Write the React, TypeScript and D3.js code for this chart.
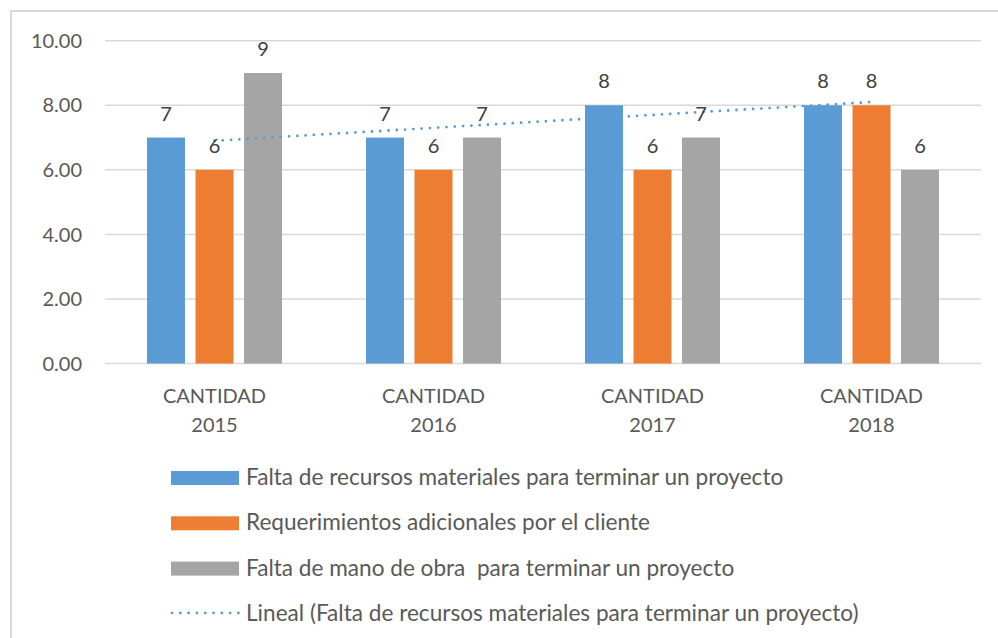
import React from "react";
import * as d3 from "d3";

const categories = ["CANTIDAD 2015", "CANTIDAD 2016", "CANTIDAD 2017", "CANTIDAD 2018"];
const seriesNames = [
  "Falta de recursos materiales para terminar un proyecto",
  "Requerimientos adicionales por el cliente",
  "Falta de mano de obra  para terminar un proyecto",
];
const faltaRecursos = [7, 7, 8, 8];
const requerimientos = [6, 6, 6, 8];
const faltaManoObra = [9, 7, 7, 6];
const trendName = "Lineal (Falta de recursos materiales para terminar un proyecto)";
const yTicks = [0, 2, 4, 6, 8, 10];

const colors = ["#5B9BD5", "#ED7D31", "#A5A5A5"];
const FONT = "Lato, 'Open Sans', sans-serif";

const W = 998;
const H = 638;

export default function App() {
  const series = [faltaRecursos, requerimientos, faltaManoObra];

  const y = d3.scaleLinear().domain([0, 10]).range([363.5, 40.7]);
  const x = d3.scaleBand<string>().domain(categories).range([105, 981]).padding(0);
  const groupW = 135;
  const inner = d3
    .scaleBand<number>()
    .domain([0, 1, 2])
    .range([0, groupW])
    .paddingInner(0.217)
    .paddingOuter(0);

  const center = (c: string) => (x(c) ?? 0) + x.bandwidth() / 2;

  // least-squares linear trend of the first series across category index 1..n
  const n = faltaRecursos.length;
  const xs = d3.range(1, n + 1);
  const mx = d3.mean(xs)!;
  const my = d3.mean(faltaRecursos)!;
  const slope =
    d3.sum(xs, (xi, i) => (xi - mx) * (faltaRecursos[i] - my)) /
    d3.sum(xs, (xi) => (xi - mx) ** 2);
  const intercept = my - slope * mx;
  const trendPts: [number, number][] = [
    [center(categories[0]), y(intercept + slope * 1)],
    [center(categories[n - 1]), y(intercept + slope * n)],
  ];
  const trendPath = d3.line()(trendPts) ?? "";

  const legendX = 171;
  const legendY0 = 471;
  const legendStep = 45.3;
  const legendFont = 22.6;

  return (
    <svg
      width={W}
      height={H}
      style={{ position: "absolute", left: 0, top: 0, background: "#fff" }}
      fontFamily={FONT}
    >
      <rect x={0} y={0} width={W} height={H} fill="#fff" />
      {/* chart frame */}
      <rect x={11} y={11} width={W + 20} height={H + 20} fill="none" stroke="#D9D9D9" strokeWidth={2} />

      {/* gridlines + y labels */}
      {yTicks.map((t) => (
        <g key={t}>
          <line x1={105} x2={981} y1={y(t)} y2={y(t)} stroke="#D9D9D9" strokeWidth={1.5} />
          <text x={82} y={y(t)} dy="0.36em" textAnchor="end" fontSize={20} fill="#595959">
            {d3.format(".2f")(t)}
          </text>
        </g>
      ))}

      {/* bars */}
      {series.map((vals, si) =>
        vals.map((v, ci) => {
          const bx = center(categories[ci]) - groupW / 2 + (inner(si) ?? 0);
          return (
            <rect
              key={`${si}-${ci}`}
              x={bx}
              y={y(v)}
              width={inner.bandwidth()}
              height={y(0) - y(v)}
              fill={colors[si]}
            />
          );
        })
      )}

      {/* trendline */}
      <path
        d={trendPath}
        fill="none"
        stroke="#5B9BD5"
        strokeWidth={2.8}
        strokeLinecap="round"
        strokeDasharray="0 8.3"
      />

      {/* value labels */}
      {series.map((vals, si) =>
        vals.map((v, ci) => {
          const bx = center(categories[ci]) - groupW / 2 + (inner(si) ?? 0) + inner.bandwidth() / 2;
          return (
            <text
              key={`l-${si}-${ci}`}
              x={bx}
              y={y(v) - 17}
              textAnchor="middle"
              fontSize={20}
              fill="#404040"
            >
              {v}
            </text>
          );
        })
      )}

      {/* category labels */}
      {categories.map((c) => {
        const [a, b] = c.split(" ");
        return (
          <g key={c}>
            <text x={center(c)} y={403} textAnchor="middle" fontSize={20} fill="#595959">
              {a}
            </text>
            <text x={center(c)} y={432} textAnchor="middle" fontSize={20} fill="#595959">
              {b}
            </text>
          </g>
        );
      })}

      {/* legend */}
      {seriesNames.map((name, i) => (
        <g key={name}>
          <rect x={legendX} y={legendY0 + i * legendStep} width={68} height={14} fill={colors[i]} />
          <text
            x={246}
            y={legendY0 + i * legendStep + 14}
            fontSize={legendFont}
            fill="#595959"
            style={{ whiteSpace: "pre" }}
          >
            {name}
          </text>
        </g>
      ))}
      <line
        x1={legendX + 1}
        x2={legendX + 68}
        y1={legendY0 + 3 * legendStep + 6}
        y2={legendY0 + 3 * legendStep + 6}
        stroke="#5B9BD5"
        strokeWidth={2.8}
        strokeLinecap="round"
        strokeDasharray="0 8.3"
      />
      <text x={246} y={legendY0 + 3 * legendStep + 14} fontSize={legendFont} fill="#595959">
        {trendName}
      </text>
    </svg>
  );
}
